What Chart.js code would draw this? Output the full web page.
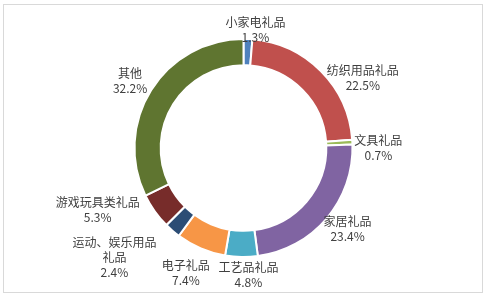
<!DOCTYPE html>
<html>
<head>
<meta charset="utf-8">
<script src="https://cdn.jsdelivr.net/npm/chart.js@4/dist/chart.umd.min.js"></script>
<style>
  html, body { margin: 0; padding: 0; background: #fff; }
  canvas { display: block; }
</style>
</head>
<body>
<canvas id="c" width="487" height="296"></canvas>
<script>
const categories = ['小家电礼品', '纺织用品礼品', '文具礼品', '家居礼品', '工艺品礼品', '电子礼品', ['运动、娱乐用品', '礼品'], '游戏玩具类礼品', '其他'];
const shares = [1.3, 22.5, 0.7, 23.4, 4.8, 7.4, 2.4, 5.3, 32.2];
const percentLabels = ['1.3%', '22.5%', '0.7%', '23.4%', '4.8%', '7.4%', '2.4%', '5.3%', '32.2%'];
const sliceColors = ['#4F81BD', '#C0504D', '#9BBB59', '#8064A2', '#4BACC6', '#F79646', '#2C4D75', '#772C2A', '#5F7530'];

// label nudges (px) relative to point on outer edge at each slice's mid-angle
const labelNudge = [[7.5, -9.6], [42, 7], [26, 5.4], [21, 10], [7, 17.5], [-15, 25], [-58, 27], [-57, -1], [-21, -9]];

const framePlugin = {
  id: 'frame',
  beforeDraw(chart) {
    const ctx = chart.ctx;
    ctx.save();
    ctx.fillStyle = '#fff';
    ctx.fillRect(0, 0, chart.width, chart.height);
    ctx.strokeStyle = '#D9D9D9';
    ctx.lineWidth = 1;
    ctx.strokeRect(3.5, 4.5, 479, 288);
    ctx.restore();
  }
};

const labelPlugin = {
  id: 'outLabels',
  afterDatasetsDraw(chart) {
    const ctx = chart.ctx;
    const meta = chart.getDatasetMeta(0);
    ctx.save();
    ctx.font = '12px "Noto Sans CJK SC", "Microsoft YaHei", sans-serif';
    ctx.fillStyle = '#404040';
    ctx.textAlign = 'center';
    ctx.textBaseline = 'middle';
    const lh = 15;
    meta.data.forEach((arc, i) => {
      const p = arc.getProps(['x', 'y', 'startAngle', 'endAngle', 'outerRadius'], true);
      const mid = (p.startAngle + p.endAngle) / 2;
      const bx = p.x + Math.cos(mid) * p.outerRadius;
      const by = p.y + Math.sin(mid) * p.outerRadius;
      const name = categories[i];
      const lines = (Array.isArray(name) ? name.slice() : [name]);
      lines.push(percentLabels[i]);
      const cx = bx + labelNudge[i][0];
      const cy = by + labelNudge[i][1];
      const top = cy - (lines.length - 1) * lh / 2;
      lines.forEach((t, k) => ctx.fillText(t, cx, top + k * lh));
    });
    ctx.restore();
  }
};

new Chart(document.getElementById('c'), {
  type: 'doughnut',
  data: {
    labels: categories,
    datasets: [{
      data: shares,
      backgroundColor: sliceColors,
      borderColor: '#ffffff',
      borderWidth: 2
    }]
  },
  options: {
    responsive: false,
    animation: false,
    cutout: '76%',
    layout: { padding: { top: 38, bottom: 38, left: 0, right: 0 } },
    plugins: {
      legend: { display: false },
      tooltip: { enabled: false }
    }
  },
  plugins: [framePlugin, labelPlugin]
});
</script>
</body>
</html>
